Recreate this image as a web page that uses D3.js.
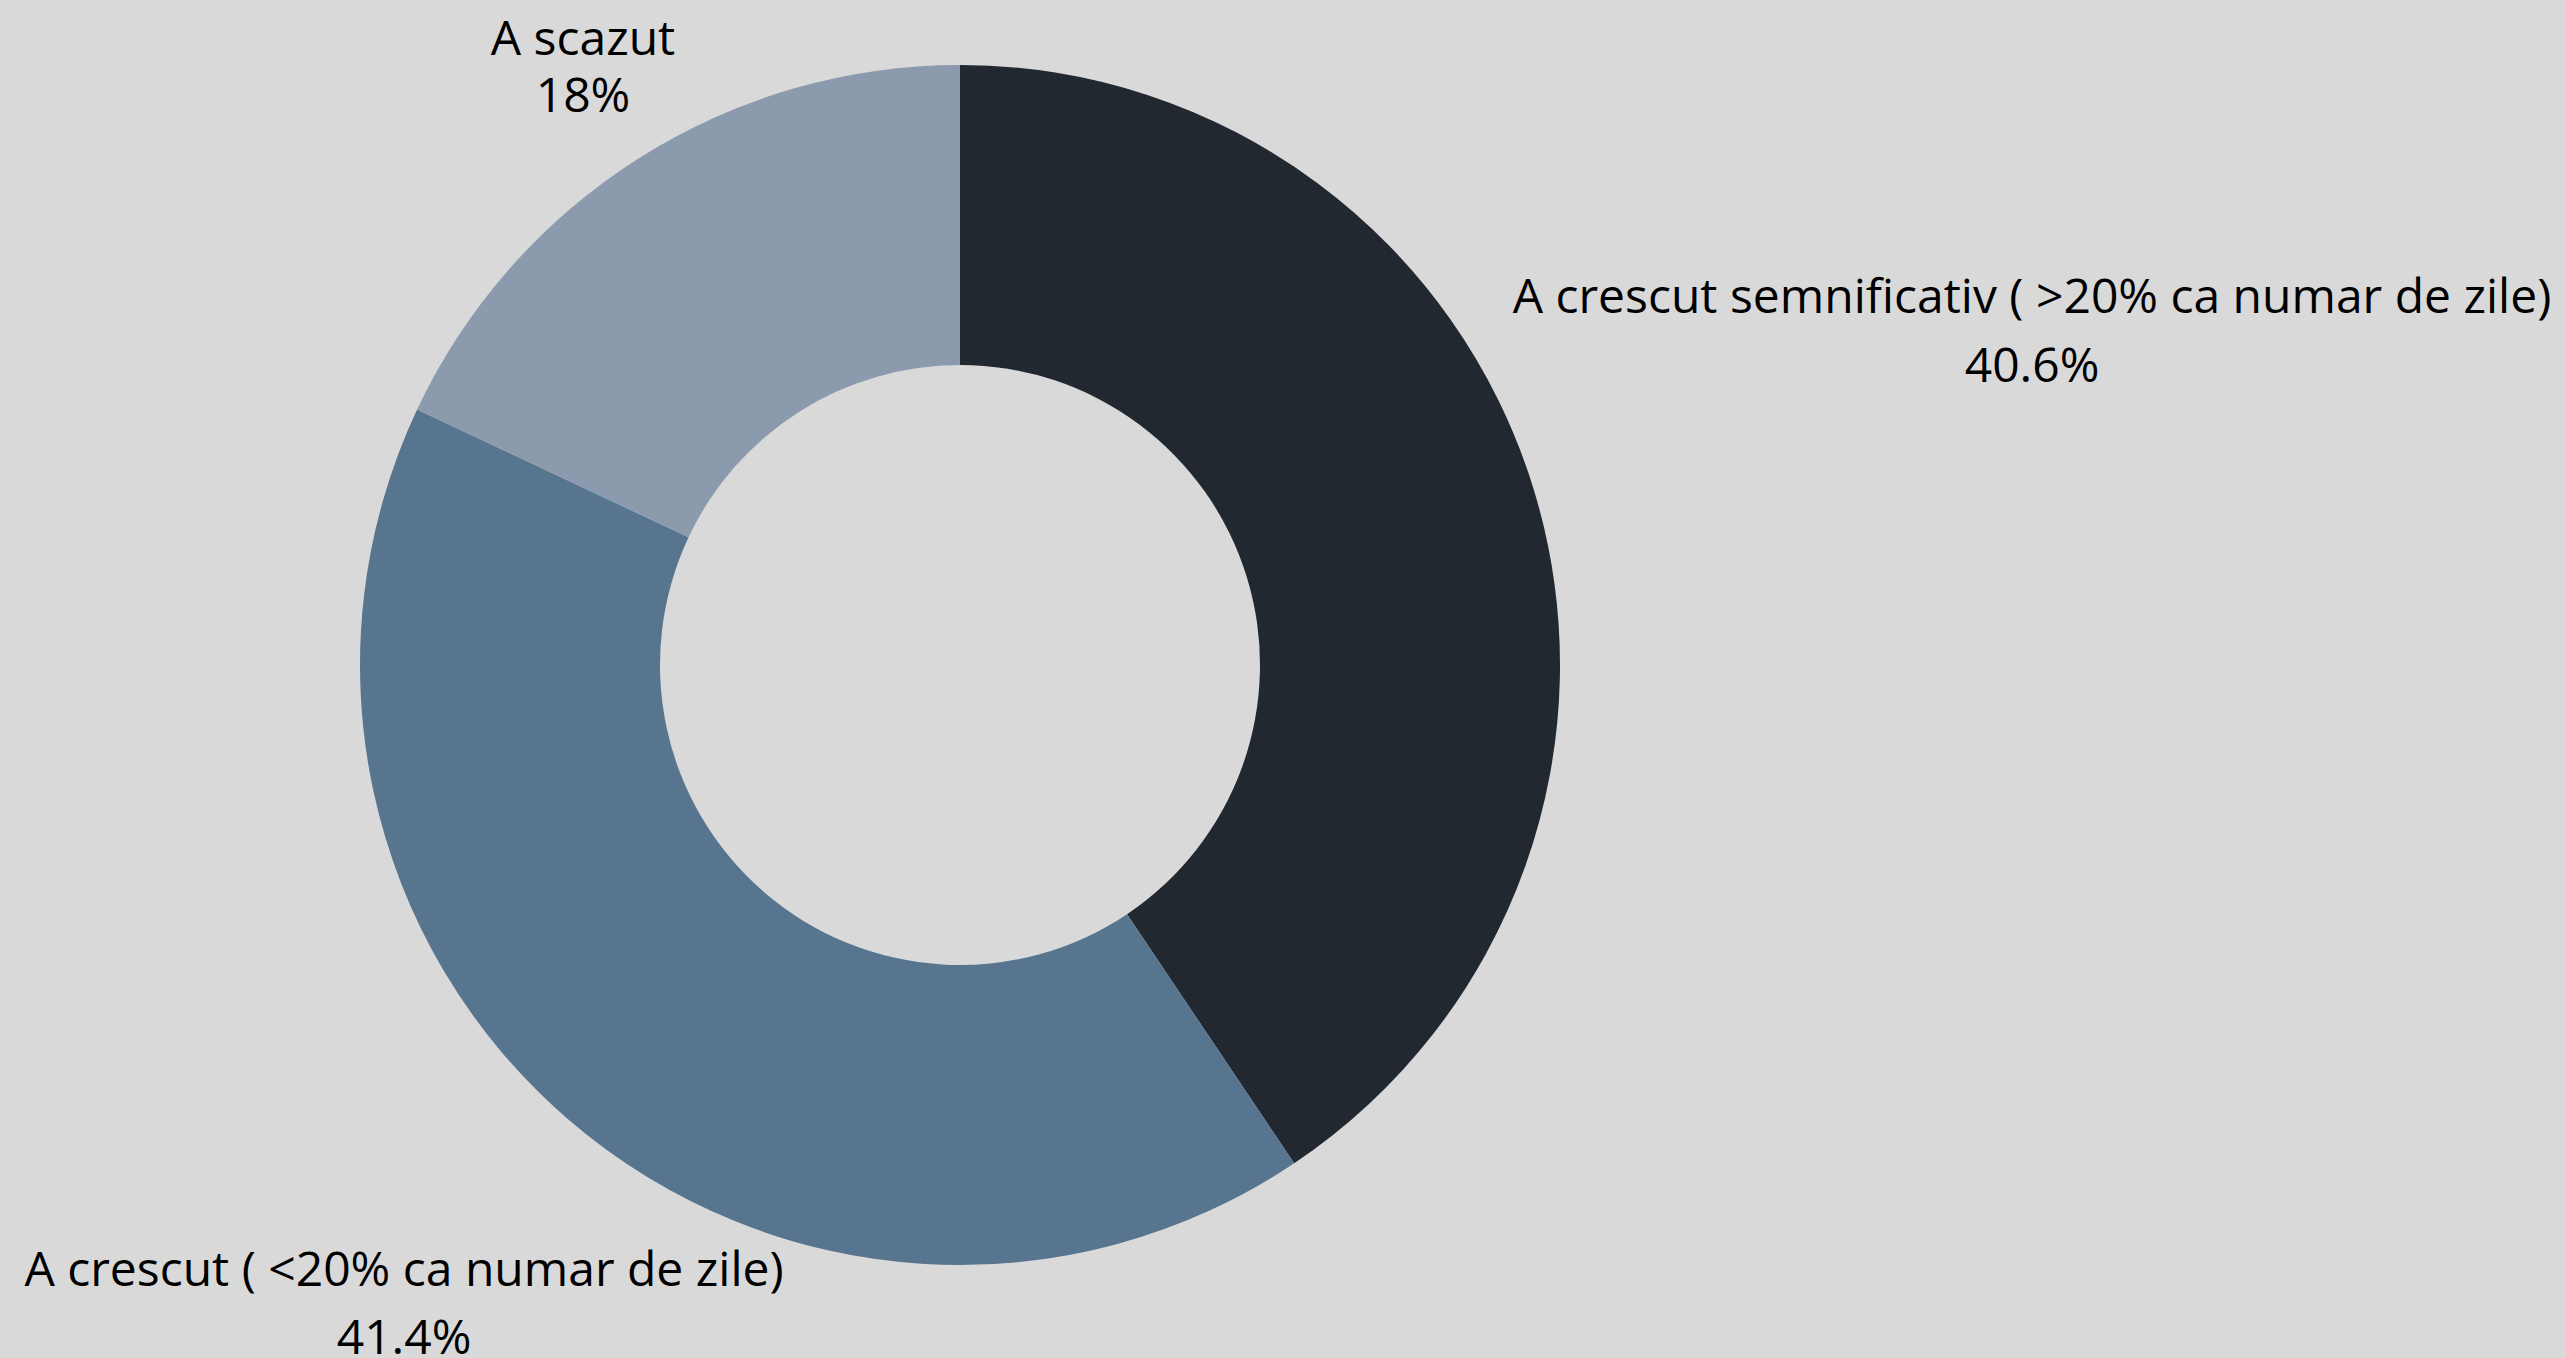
<!DOCTYPE html>
<html><head><meta charset="utf-8">
<script src="https://cdn.jsdelivr.net/npm/d3@7"></script>
<style>html,body{margin:0;padding:0;background:#d9d9d9;overflow:hidden}</style>
</head><body>
<svg id="chart" width="2566" height="1358"></svg>
<script>
const categories = ["A crescut semnificativ ( >20% ca numar de zile)", "A crescut ( <20% ca numar de zile)", "A scazut"];
const values = [40.6, 41.4, 18];
const valueLabels = ["40.6%", "41.4%", "18%"];
const colors = ["#212830", "#57758f", "#8b9bad"];
// label anchor positions (center x, first baseline y) and line gap
const labelPos = [[2032, 313, 69], [404, 1286, 68], [583, 55, 57]];

const svg = d3.select("#chart");
svg.append("rect").attr("width", 2566).attr("height", 1358).attr("fill", "#d9d9d9");
const cx = 960, cy = 665, R = 600, r = 300;
const pie = d3.pie().sort(null).value(d => d)(values);
const arc = d3.arc().innerRadius(r).outerRadius(R);
const g = svg.append("g").attr("transform", `translate(${cx},${cy})`);
g.selectAll("path").data(pie).join("path").attr("d", arc).attr("fill", (d, i) => colors[i]);

const lg = svg.append("g").attr("font-family", "'Open Sans', sans-serif").attr("font-size", 48).attr("fill", "#000").attr("text-anchor", "middle");
categories.forEach((c, i) => {
  const [x, y, gap] = labelPos[i];
  lg.append("text").attr("x", x).attr("y", y).text(c);
  lg.append("text").attr("x", x).attr("y", y + gap).text(valueLabels[i]);
});
</script>
</body></html>
